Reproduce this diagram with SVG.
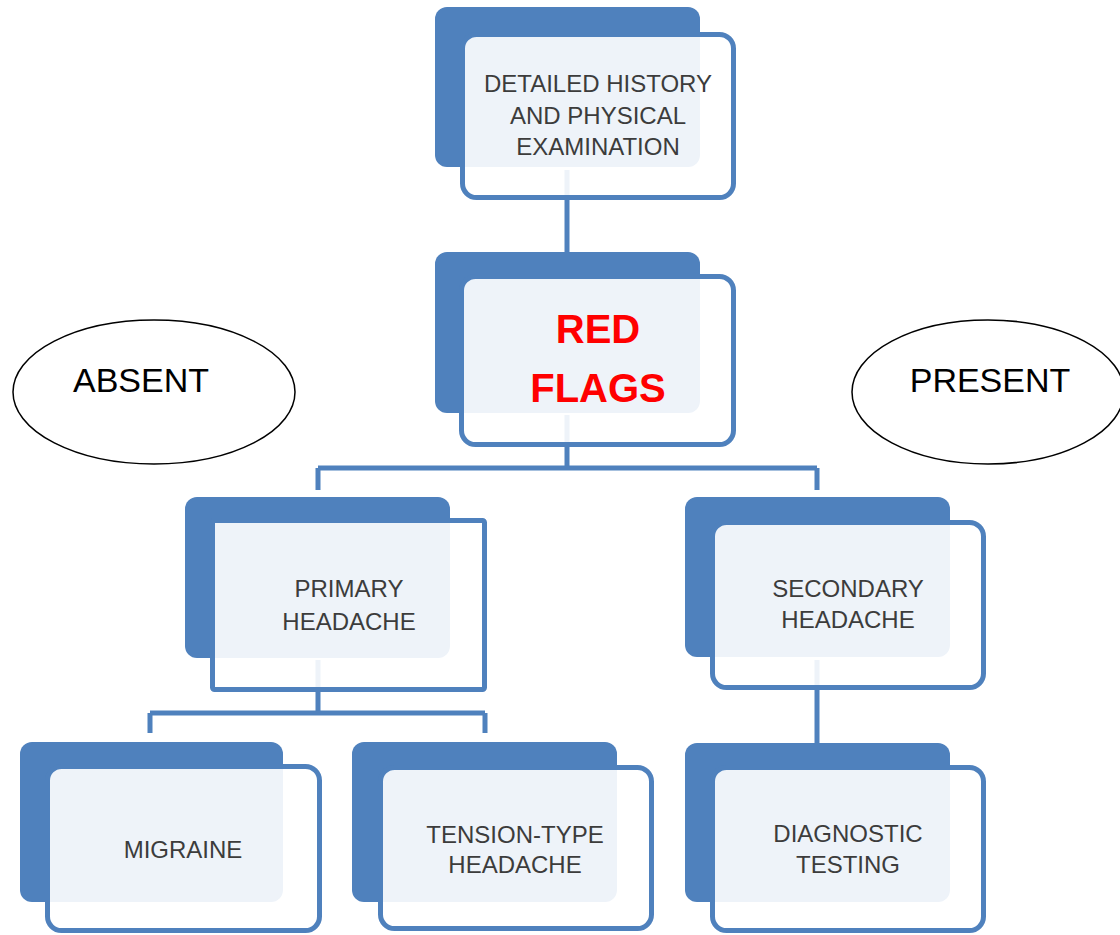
<svg xmlns="http://www.w3.org/2000/svg" width="1120" height="935" viewBox="0 0 1120 935">
<style>
.back{fill:#4f81bd}
.front{fill:#ffffff;fill-opacity:0.9;stroke:#4f81bd;stroke-width:5}
.lbl{font-family:"Liberation Sans",Arial,sans-serif;font-size:24px;fill:#3c3c3c;text-anchor:middle}
.red{font-family:"Liberation Sans",Arial,sans-serif;font-size:40px;font-weight:bold;fill:#ff0000;text-anchor:middle}
.conn{fill:none;stroke:#4f81bd;stroke-width:5}
.ell{fill:#ffffff;stroke:#000000;stroke-width:1.5}
.etxt{font-family:"Liberation Sans",Arial,sans-serif;font-size:34px;fill:#000000;text-anchor:middle}
</style>
<rect width="1120" height="935" fill="#ffffff"/>
<g id="connectors">
<path class="conn" d="M567 170 V252"/>
<path class="conn" d="M567 415 V468 M318 468 H817 M318 468 V490 M817 468 V490"/>
<path class="conn" d="M318 660 V713 M150 713 H485 M150 713 V733 M485 713 V733"/>
<path class="conn" d="M817 660 V743"/>
</g>
<g id="ellipse-absent">
<ellipse class="ell" cx="154" cy="392" rx="141" ry="72"/>
<text class="etxt" x="141" y="392">ABSENT</text>
</g>
<g id="ellipse-present">
<ellipse class="ell" cx="988" cy="392" rx="136" ry="72"/>
<text class="etxt" x="990" y="392">PRESENT</text>
</g>
<g id="node-history">
<rect class="back" x="435" y="7" width="265" height="160" rx="12"/>
<rect class="front" x="462.5" y="34.5" width="271" height="163" rx="14"/>
<text class="lbl" x="598" y="92">DETAILED HISTORY</text>
<text class="lbl" x="598" y="124">AND PHYSICAL</text>
<text class="lbl" x="598" y="155">EXAMINATION</text>
</g>
<g id="node-redflags">
<rect class="back" x="435" y="252" width="265" height="161" rx="12"/>
<rect class="front" x="461.5" y="276.5" width="272" height="168" rx="14"/>
<text class="red" x="598" y="343">RED</text>
<text class="red" x="598" y="402">FLAGS</text>
</g>
<g id="node-primary">
<rect class="back" x="185" y="497" width="265" height="161" rx="12"/>
<rect class="front" x="212.5" y="520.5" width="272" height="169" rx="2"/>
<text class="lbl" x="349" y="597">PRIMARY</text>
<text class="lbl" x="349" y="630">HEADACHE</text>
</g>
<g id="node-secondary">
<rect class="back" x="685" y="497" width="265" height="160" rx="12"/>
<rect class="front" x="712.5" y="522.5" width="271" height="165" rx="14"/>
<text class="lbl" x="848" y="597">SECONDARY</text>
<text class="lbl" x="848" y="628">HEADACHE</text>
</g>
<g id="node-migraine">
<rect class="back" x="20" y="742" width="263" height="160" rx="12"/>
<rect class="front" x="47.5" y="766.5" width="272" height="164" rx="14"/>
<text class="lbl" x="183" y="858">MIGRAINE</text>
</g>
<g id="node-tension">
<rect class="back" x="352" y="742" width="265" height="160" rx="12"/>
<rect class="front" x="380.5" y="767.5" width="271" height="161" rx="14"/>
<text class="lbl" x="515" y="843">TENSION-TYPE</text>
<text class="lbl" x="515" y="873">HEADACHE</text>
</g>
<g id="node-diagnostic">
<rect class="back" x="685" y="743" width="265" height="159" rx="12"/>
<rect class="front" x="712.5" y="767.5" width="271" height="163" rx="14"/>
<text class="lbl" x="848" y="842">DIAGNOSTIC</text>
<text class="lbl" x="848" y="873">TESTING</text>
</g>
</svg>
